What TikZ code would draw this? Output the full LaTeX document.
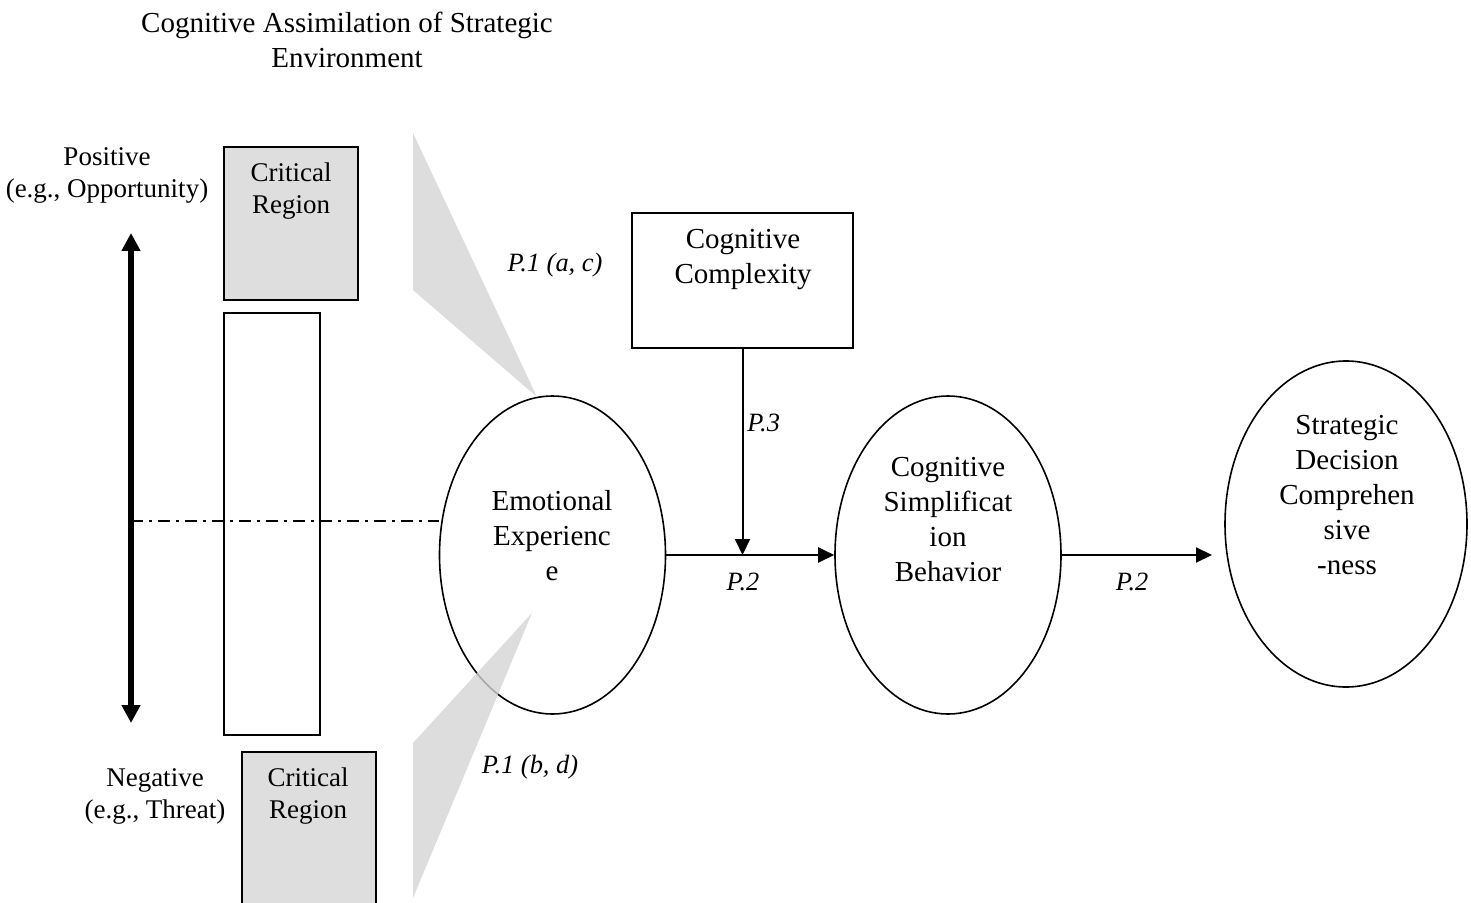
\documentclass[tikz,border=0pt]{standalone}
\usepackage{fontspec}
\setmainfont{Liberation Serif}
\usetikzlibrary{shapes.geometric,arrows.meta}
\tikzset{
    oval/.style={ellipse, draw, line width=0.8pt, inner sep=0pt},
    region/.style={draw, line width=1pt, fill=black!13, minimum width=67pt},
    plainbox/.style={draw, line width=1pt},
    txt/.style={align=center, inner sep=0pt, font=\fontsize{14.5}{17.5}\selectfont},
    side/.style={align=center, inner sep=0pt, font=\fontsize{13.5}{16}\selectfont},
    plab/.style={inner sep=0pt, font=\fontsize{13.2}{16}\selectfont\itshape},
    link/.style={line width=1pt, -{Triangle[length=8pt,width=7.5pt]}},
    wedge/.style={fill=black!17, fill opacity=0.8},
}
\begin{document}
\begin{tikzpicture}[x=0.5pt,y=-0.5pt]
    \useasboundingbox (0,0) rectangle (1471,903);
    \clip (0,0) rectangle (1471,903);

    % valence scale
    \node[txt] (title) at (347,40) {Cognitive Assimilation of Strategic\\Environment};
    \node[side] (pos) at (107,175) {Positive\\(e.g., Opportunity)};
    \node[side] (neg) at (155,796) {Negative\\(e.g., Threat)};
    \coordinate (top) at (131,233);
    \coordinate (bot) at (131,723);
    \coordinate (mid) at (131,521);
    \draw[line width=3pt, {Triangle[length=9pt,width=9pt]}-{Triangle[length=9pt,width=9pt]}] (top) -- (bot);

    \node[region, minimum height=76.5pt] (crit1) at (291,223.5) {};
    \node[side] (crit1txt) at (291,191) {Critical\\Region};
    \node[plainbox, minimum width=48pt, minimum height=211pt] (band) at (272,524) {};
    \node[region, minimum height=79pt] (crit2) at (309,831) {};
    \node[side] (crit2txt) at (308,796) {Critical\\Region};

    % constructs
    \node[oval, minimum width=113pt, minimum height=159pt] (emo) at (552.5,555) {};
    \node[txt] (emotxt) at (552,536) {Emotional\\Experienc\\e};
    \node[oval, minimum width=113pt, minimum height=159pt] (simp) at (948,555) {};
    \node[txt] (simptxt) at (948,520) {Cognitive\\Simplificat\\ion\\Behavior};
    \node[oval, minimum width=121pt, minimum height=163pt] (sdc) at (1346,524) {};
    \node[txt] (sdctxt) at (1347,495) {Strategic\\Decision\\Comprehen\\sive\\-ness};
    \node[plainbox, minimum width=110.5pt, minimum height=67.5pt] (cc) at (742.5,280.5) {};
    \node[txt] (cctxt) at (743,260) {Cognitive\\Complexity};

    % critical region wedges
    \fill[wedge] (413,133) -- (537,397) -- (413,290) -- cycle;
    \fill[wedge] (532,613) -- (413,743) -- (413,898) -- cycle;
    \draw[line width=1pt, dash pattern=on 6pt off 3pt on 1.5pt off 3pt] (mid) -- (emo.west |- mid);

    % paths
    \coordinate (sdin) at (1212,555);
    \draw[link] (emo.east) -- (simp.west);
    \draw[link] (cc.south) -- (cc.south |- emo.east);
    \draw[link] (simp.east) -- (sdin);

    \node[plab] (p1ac) at (555,265) {P.1 (a, c)};
    \node[plab] (p1bd) at (530,767) {P.1 (b, d)};
    \node[plab, anchor=west] (p3) at (747,423) {P.3};
    \node[plab] (p2a) at (743,582) {P.2};
    \node[plab] (p2b) at (1132,582) {P.2};
\end{tikzpicture}
\end{document}
